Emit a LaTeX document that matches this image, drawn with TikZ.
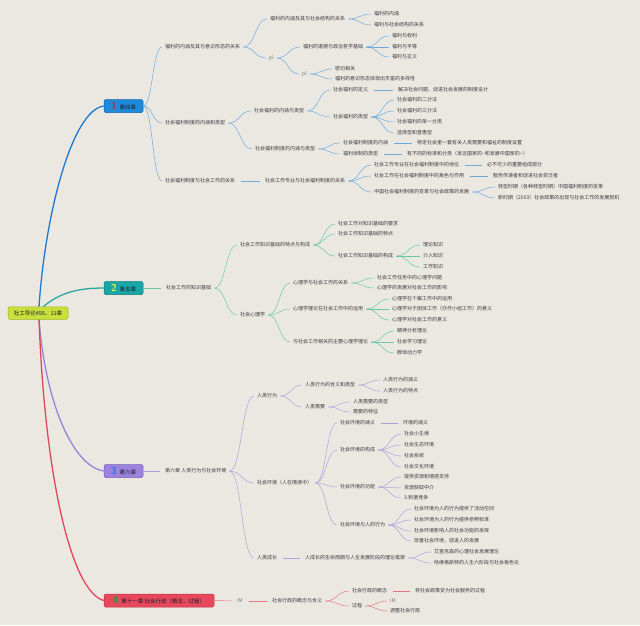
\documentclass[tikz,border=0pt]{standalone}
\usepackage{fontspec}
\newfontfamily\cjk{Noto Sans CJK SC}
\usetikzlibrary{calc}
\definecolor{bg}{RGB}{235,232,226}
\definecolor{txt}{RGB}{60,60,60}
\definecolor{chtxt}{RGB}{25,30,45}
\definecolor{ln1}{RGB}{110,170,222}
\definecolor{ln2}{RGB}{105,200,170}
\definecolor{ln3}{RGB}{172,162,218}
\definecolor{ln4}{RGB}{232,118,132}
\definecolor{m1c}{RGB}{30,120,210}
\definecolor{m2c}{RGB}{40,168,160}
\definecolor{m3c}{RGB}{150,132,218}
\definecolor{m4c}{RGB}{226,70,92}
\definecolor{c1f}{RGB}{32,138,218}
\definecolor{c1d}{RGB}{20,100,170}
\definecolor{c2f}{RGB}{26,166,166}
\definecolor{c2d}{RGB}{18,125,125}
\definecolor{c3f}{RGB}{157,130,222}
\definecolor{c3d}{RGB}{120,95,185}
\definecolor{c4f}{RGB}{232,72,92}
\definecolor{c4d}{RGB}{190,45,65}
\definecolor{rootf}{RGB}{200,224,60}
\definecolor{rootd}{RGB}{160,185,30}
\definecolor{n1c}{RGB}{210,30,60}
\definecolor{n2c}{RGB}{222,238,80}
\definecolor{n3c}{RGB}{40,120,225}
\definecolor{n4c}{RGB}{45,150,60}
\definecolor{iconc}{RGB}{120,120,120}
\begin{document}
\begin{tikzpicture}[x=1pt,y=-1pt,
  every node/.style={font=\cjk\fontsize{5}{6}\selectfont, text=txt},
  t/.style={anchor=west, xshift=-3pt, inner xsep=3pt, inner ysep=1pt},
  icon/.style={t, text=iconc},
  chap/.style={rounded corners=1.5pt, minimum height=13pt, inner xsep=3pt, inner ysep=0pt, line width=0.5pt, font=\cjk\fontsize{5.5}{6}\selectfont, text=chtxt},
  num/.style={},
  br/.style={to path={let \p1=(\tikztostart),\p2=(\tikztotarget) in .. controls ({(\x1+\x2)/2},\y1) and ({(\x1+\x2)/2},\y2) .. (\tikztotarget)}},
  sl/.style={shorten <=3pt, shorten >=2pt},
  l1/.style={draw=ln1, line width=0.5pt},
  l2/.style={draw=ln2, line width=0.5pt},
  l3/.style={draw=ln3, line width=0.5pt},
  l4/.style={draw=ln4, line width=0.5pt},
  mainline/.style={line width=1.3pt}
  ]
\fill[bg] (0,0) rectangle (640,625);
\useasboundingbox (0,0) rectangle (640,625);

% ---------- chapter boxes and root ----------
\node[chap, fill=c1f, draw=c1d, minimum width=39pt] (c1) at (123.5,106) {{\sffamily\bfseries\fontsize{10}{10}\selectfont\color{n1c}1}\hspace{3pt}第四章};
\node[chap, fill=c2f, draw=c2d, minimum width=39pt] (c2) at (123.5,288) {{\sffamily\bfseries\fontsize{10}{10}\selectfont\color{n2c}2}\hspace{3pt}第五章};
\node[chap, fill=c3f, draw=c3d, minimum width=39pt] (c3) at (123.5,471) {{\sffamily\bfseries\fontsize{10}{10}\selectfont\color{n3c}3}\hspace{3pt}第六章};
\node[chap, fill=c4f, draw=c4d, minimum width=110pt] (c4) at (159,600.5) {{\sffamily\bfseries\fontsize{10}{10}\selectfont\color{n4c}4}\hspace{3pt}第十一章 社会行政（概念、过程）};

\draw[m1c, mainline] (39,307) .. controls (45,215) and (72,110) .. (c1.west);
\draw[m2c, mainline] (43,307) .. controls (60,292) and (80,288) .. (c2.west);
\draw[m3c, mainline] (39,319) .. controls (45,400) and (72,466) .. (c3.west);
\draw[m4c, mainline] (39,319) .. controls (45,480) and (72,592) .. (c4.west);

\node[chap, fill=rootf, draw=rootd, minimum width=60pt, minimum height=12.5pt] (root) at (38,313) {社工导论456、11章};

% ---------- chapter 1 ----------
\node[t] (a1) at (165,47) {福利的内涵及其与意识形态的关系};
\node[t] (a2) at (165,123) {社会福利制度的内涵和类型};
\node[t] (a3) at (165,181) {社会福利制度与社会工作的关系};
\node[t] (b1) at (270,19) {福利的内涵及其与社会结构的关系};
\node[icon] (b2) at (269,58) {pl};
\node[t] (b11) at (374,14) {福利的内涵};
\node[t] (b12) at (374,25) {福利与社会结构的关系};
\node[t] (b21) at (303,47) {福利的道德与政治哲学基础};
\node[icon] (b22) at (302,74) {pl};
\node[t] (b211) at (392,36) {福利与权利};
\node[t] (b212) at (392,47) {福利与平等};
\node[t] (b213) at (392,57) {福利与正义};
\node[t] (b221) at (335,69) {密切相关};
\node[t] (b222) at (335,79) {福利的意识形态体现出丰富的多样性};
\node[t] (b3) at (254,111) {社会福利的内涵与类型};
\node[t] (b4) at (255,149) {社会福利制度的内涵与类型};
\node[t] (b31) at (333,90) {社会福利的定义};
\node[t] (b32) at (333,117) {社会福利的类型};
\node[t] (b311) at (398,90) {解决社会问题、促进社会发展的制度设计};
\node[t] (b321) at (397,100) {社会福利的二分法};
\node[t] (b322) at (397,111) {社会福利的三分法};
\node[t] (b323) at (397,122) {社会福利的单一分类};
\node[t] (b324) at (397,133) {选择型和普惠型};
\node[t] (b41) at (343,143) {社会福利制度的内涵};
\node[t] (b42) at (343,154) {福利体制的类型};
\node[t] (b411) at (417,143) {特定社会里一套有关人类需要和福祉的制度设置};
\node[t] (b421) at (407,154) {有不同的标准和分类（发达国家的\textasciitilde 和发展中国家的\textasciitilde ）};
\node[t] (b5) at (265,181) {社会工作专业与社会福利制度的关系};
\node[t] (b51) at (374,165) {社会工作专业在社会福利制度中的地位};
\node[t] (b52) at (374,176) {社会工作在社会福利制度中的角色与作用};
\node[t] (b53) at (374,192) {中国社会福利制度的变革与社会政策的发展};
\node[t] (b511) at (487,165) {必不可少的重要组成部分};
\node[t] (b521) at (493,176) {服务传递者和促进社会变迁者};
\node[t] (b531) at (498,187) {转型时期（各种转型时期）中国福利制度的变革};
\node[t] (b532) at (498,198) {新时期（2003）社会政策的出现与社会工作的发展契机};

\foreach \a/\b in {c1/a1,c1/a2,c1/a3,a1/b1,a1/b2,b1/b11,b1/b12,b2/b21,b2/b22,b21/b211,b21/b212,b21/b213,b22/b221,b22/b222,a2/b3,a2/b4,b3/b31,b3/b32,b32/b321,b32/b322,b32/b323,b32/b324,b4/b41,b4/b42,b5/b51,b5/b52,b5/b53,b53/b531,b53/b532}
  \draw[l1] (\a.east) to[br] (\b.west);
\foreach \a/\b in {a3/b5,b31/b311,b41/b411,b42/b421,b51/b511,b52/b521}
  \draw[l1, sl] (\a.east) -- (\b.west);

% ---------- chapter 2 ----------
\node[t] (d1) at (166,288) {社会工作的知识基础};
\node[t] (e1) at (240,245) {社会工作知识基础的特点与构成};
\node[t] (e2) at (240,315) {社会心理学};
\node[t] (e11) at (338,224) {社会工作对知识基础的要求};
\node[t] (e12) at (338,234) {社会工作知识基础的特点};
\node[t] (e13) at (338,256) {社会工作知识基础的构成};
\node[t] (e131) at (423,245) {理论知识};
\node[t] (e132) at (423,256) {介入知识};
\node[t] (e133) at (423,267) {工作知识};
\node[t] (f1) at (293,283) {心理学与社会工作的关系};
\node[t] (f2) at (293,309) {心理学理论在社会工作中的运用};
\node[t] (f3) at (293,342) {与社会工作相关的主要心理学理论};
\node[t] (f11) at (377,278) {社会工作任务中的心理学问题};
\node[t] (f12) at (377,288) {心理学的发展对社会工作的影响};
\node[t] (f21) at (392,299) {心理学在个案工作中的运用};
\node[t] (f22) at (392,309) {心理学对于团体工作（亦作小组工作）的意义};
\node[t] (f23) at (392,320) {心理学对社会工作的意义};
\node[t] (f31) at (397,331) {精神分析理论};
\node[t] (f32) at (397,342) {社会学习理论};
\node[t] (f33) at (397,353) {群体动力学};

\draw[l2, shorten >=2pt] (c2.east) -- (d1.west);
\foreach \a/\b in {d1/e1,d1/e2,e1/e11,e1/e12,e1/e13,e13/e131,e13/e132,e13/e133,e2/f1,e2/f2,e2/f3,f1/f11,f1/f12,f2/f21,f2/f22,f2/f23,f3/f31,f3/f32,f3/f33}
  \draw[l2] (\a.east) to[br] (\b.west);

% ---------- chapter 3 ----------
\node[t] (g1) at (165,471) {第六章\ 人类行为与社会环境};
\node[t] (h1) at (257,396) {人类行为};
\node[t] (h2) at (257,483) {社会环境（人在情境中）};
\node[t] (h3) at (257,558) {人类成长};
\node[t] (i1) at (305,385) {人类行为的含义和类型};
\node[t] (i2) at (305,407) {人类需要};
\node[t] (i11) at (383,380) {人类行为的涵义};
\node[t] (i12) at (383,391) {人类行为的特点};
\node[t] (i21) at (353,402) {人类需要的类型};
\node[t] (i22) at (353,412) {需要的特征};
\node[t] (j1) at (340,423) {社会环境的涵义};
\node[t] (j2) at (340,450) {社会环境的构成};
\node[t] (j3) at (340,487) {社会环境的功能};
\node[t] (j4) at (340,525) {社会环境与人的行为};
\node[t] (j11) at (403,423) {环境的涵义};
\node[t] (j21) at (404,434) {社会小生境};
\node[t] (j22) at (404,445) {社会生态环境};
\node[t] (j23) at (404,456) {社会系统};
\node[t] (j24) at (404,467) {社会文化环境};
\node[t] (j31) at (404,477) {提供资源和情感支持};
\node[t] (j32) at (404,488) {资源获取中介};
\node[t] (j33) at (404,498) {3.刺激竞争};
\node[t] (j41) at (414,509) {社会环境为人的行为提供了活动空间};
\node[t] (j42) at (414,520) {社会环境为人的行为提供参照标准};
\node[t] (j43) at (414,531) {社会环境影响人的社会功能的发挥};
\node[t] (j44) at (414,541) {改善社会环境，促进人的发展};
\node[t] (k1) at (305,558) {人成长的生命周期与人生发展阶段的理论框架};
\node[t] (k11) at (434,552) {艾里克森的心理社会发展理论};
\node[t] (k12) at (434,563) {哈维格斯特的人生六阶段与社会角色论};

\draw[l3, shorten >=2pt] (c3.east) -- (g1.west);
\foreach \a/\b in {g1/h1,g1/h2,g1/h3,h1/i1,h1/i2,i1/i11,i1/i12,i2/i21,i2/i22,h2/j1,h2/j2,h2/j3,h2/j4,j2/j21,j2/j22,j2/j23,j2/j24,j3/j31,j3/j32,j3/j33,j4/j41,j4/j42,j4/j43,j4/j44,k1/k11,k1/k12}
  \draw[l3] (\a.east) to[br] (\b.west);
\foreach \a/\b in {j1/j11,h3/k1}
  \draw[l3, sl] (\a.east) -- (\b.west);

% ---------- chapter 4 ----------
\node[icon] (m1) at (237,601) {IM};
\node[t] (m2) at (272,601) {社会行政的概念与含义};
\node[t] (n1) at (352,591) {社会行政的概念};
\node[t] (n2) at (352,606) {过程};
\node[t] (n11) at (415,591) {将社会政策变为社会服务的过程};
\node[icon] (n21) at (390,601) {IM};
\node[t] (n22) at (390,611) {调整社会行政};

\draw[l4, shorten >=2pt] (c4.east) -- (m1.west);
\draw[l4, sl] (m1.east) -- (m2.west);
\draw[l4, sl] (n1.east) -- (n11.west);
\foreach \a/\b in {m2/n1,m2/n2,n2/n21,n2/n22}
  \draw[l4] (\a.east) to[br] (\b.west);
\end{tikzpicture}
\end{document}
